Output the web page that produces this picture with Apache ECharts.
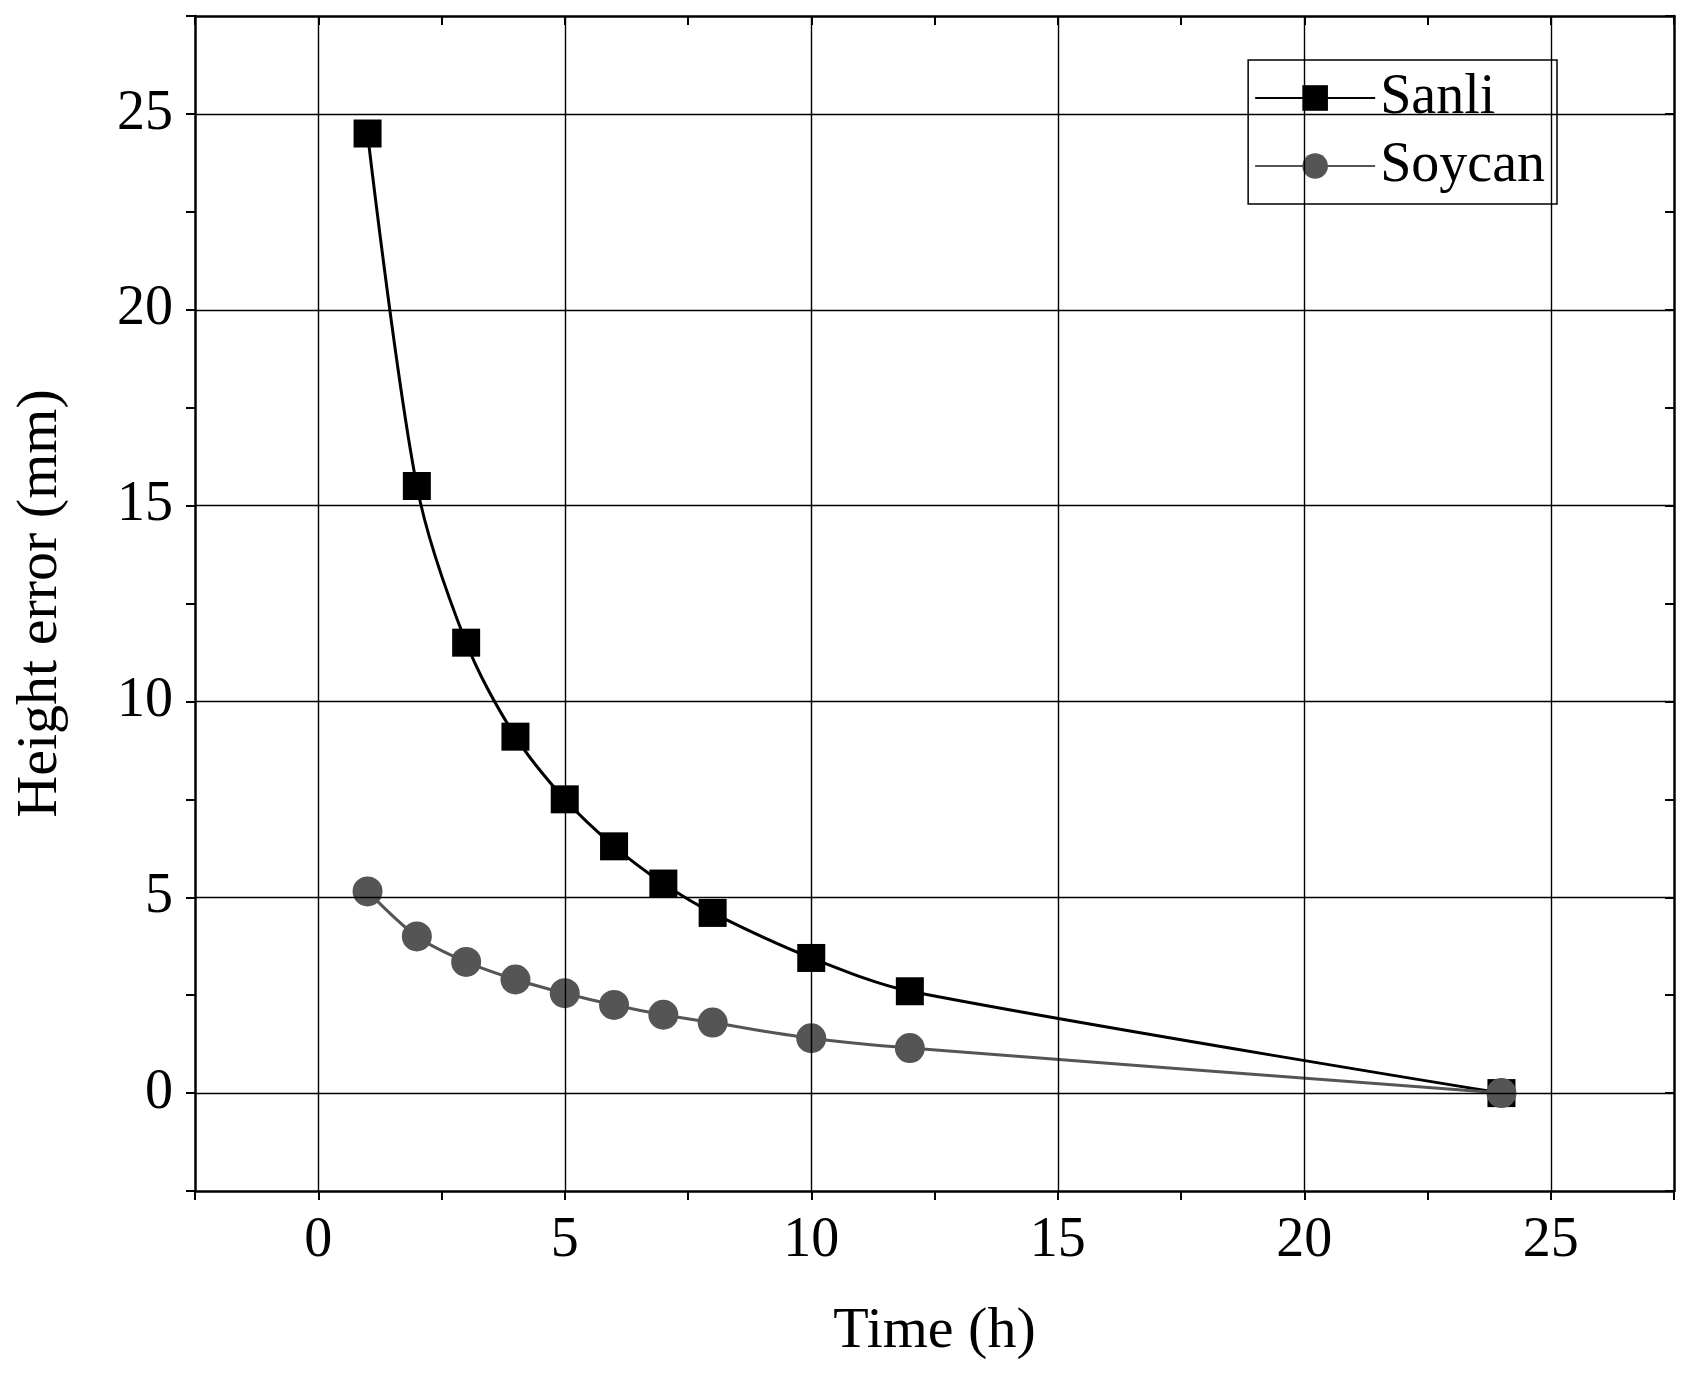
<!DOCTYPE html>
<html><head><meta charset="utf-8">
<script src="https://cdn.jsdelivr.net/npm/echarts@6/dist/echarts.min.js"></script>
<style>html,body{margin:0;background:#fff}#c{width:1692px;height:1377px}</style>
</head><body><div id="c"></div>
<script>
var timeH = [1, 2, 3, 4, 5, 6, 7, 8, 10, 12, 24];
var sanli = [24.5, 15.5, 11.5, 9.1, 7.5, 6.3, 5.35, 4.6, 3.45, 2.6, 0];
var soycan = [5.15, 4.0, 3.35, 2.9, 2.55, 2.25, 2.0, 1.8, 1.4, 1.15, 0];
var gridTicks = [0, 5, 10, 15, 20, 25];

var font = '"Liberation Serif", "DejaVu Serif", serif';
var chart = echarts.init(document.getElementById('c'));
function pairs(ys) { return timeH.map(function (x, i) { return [x, ys[i]]; }); }
function lbl(v) { return v % 5 === 0 ? String(v) : ''; }
var lineCol = '#000';

var gridLines = gridTicks.map(function (v) { return { xAxis: v }; })
  .concat(gridTicks.map(function (v) { return { yAxis: v }; }));

function axis(extra) {
  var a = {
    type: 'value', min: -2.5, max: 27.5, interval: 2.5,
    axisLine: { onZero: false, lineStyle: { color: lineCol, width: 2.5 } },
    axisTick: { inside: false, length: 9, lineStyle: { width: 2 } },
    axisLabel: { show: false }, splitLine: { show: false }
  };
  for (var k in extra) a[k] = extra[k];
  return a;
}

chart.setOption({
  animation: false,
  textStyle: { fontFamily: font },
  grid: { left: 195, right: 18, top: 16, bottom: 186 },
  legend: {
    right: 135, top: 60, orient: 'vertical', itemWidth: 120, itemHeight: 32, itemGap: 12,
    padding: [10, 12, 10, 6], borderColor: '#000', borderWidth: 1.5,
    textStyle: { fontSize: 56, fontFamily: font, color: '#000' },
    data: ['Sanli', 'Soycan']
  },
  xAxis: [axis({
    name: 'Time (h)', nameLocation: 'middle', nameGap: 112,
    nameTextStyle: { fontSize: 58, color: '#000', fontFamily: font },
    axisLabel: { formatter: lbl, fontSize: 56, color: '#000', margin: 22 }
  }), axis({ position: 'top', axisTick: { inside: true, length: 9, lineStyle: { width: 2 } } })],
  yAxis: [axis({
    name: 'Height error (mm)', nameLocation: 'middle', nameGap: 125,
    nameTextStyle: { fontSize: 58, color: '#000', fontFamily: font },
    axisLabel: { formatter: lbl, fontSize: 56, color: '#000', margin: 22 }
  }), axis({ position: 'right', axisTick: { inside: true, length: 9, lineStyle: { width: 2 } } })],
  series: [{
    name: 'Sanli', type: 'line', data: pairs(sanli), smooth: 0.3,
    symbol: 'rect', symbolSize: 28,
    lineStyle: { color: '#000', width: 3 }, itemStyle: { color: '#000' },
    markLine: { silent: true, symbol: 'none', label: { show: false },
      lineStyle: { color: '#000', width: 1.4, type: 'solid' }, data: gridLines },
    z: 3
  }, {
    name: 'Soycan', type: 'line', data: pairs(soycan), smooth: 0.3,
    symbol: 'circle', symbolSize: 30,
    lineStyle: { color: '#555', width: 3 }, itemStyle: { color: '#555' },
    z: 4
  }]
});
</script></body></html>
